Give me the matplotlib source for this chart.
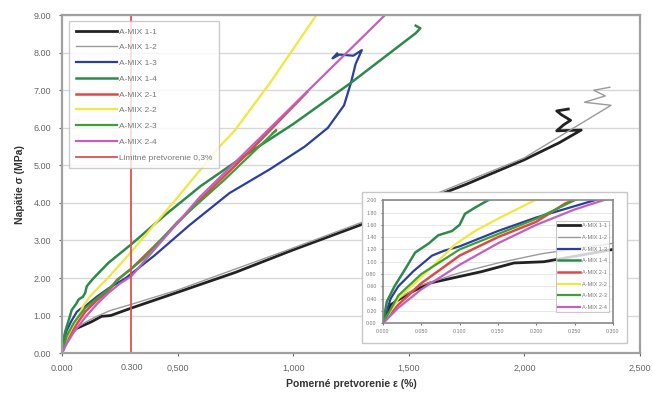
import matplotlib.pyplot as plt

# strain (%) / stress (MPa) readings per specimen
labels = ["A-MIX 1-1", "A-MIX 1-2", "A-MIX 1-3", "A-MIX 1-4",
          "A-MIX 2-1", "A-MIX 2-2", "A-MIX 2-3", "A-MIX 2-4"]

mix11_x = [0, 0.01, 0.033, 0.06, 0.1, 0.129, 0.171, 0.21, 0.3, 0.5, 0.75, 1.0, 1.285, 1.5, 1.75, 2.0, 2.15, 2.246,
           2.14, 2.17, 2.2, 2.16, 2.14, 2.19]
mix11_y = [0, 0.3, 0.48, 0.65, 0.76, 0.84, 0.98, 1.0, 1.2, 1.62, 2.15, 2.75, 3.4, 3.9, 4.5, 5.15, 5.6, 5.94,
           5.92, 6.08, 6.2, 6.35, 6.45, 6.5]

mix12_x = [0, 0.02, 0.05, 0.1, 0.15, 0.207, 0.3, 0.5, 1.0, 1.5, 2.0, 2.375, 2.26, 2.35, 2.3, 2.37]
mix12_y = [0, 0.4, 0.62, 0.82, 0.98, 1.13, 1.3, 1.68, 2.8, 3.95, 5.2, 6.6, 6.68, 6.85, 7.0, 7.08]

mix13_x = [0, 0.01, 0.02, 0.04, 0.064, 0.08, 0.1, 0.15, 0.2, 0.276, 0.4, 0.55, 0.724, 0.9, 1.05, 1.15, 1.22,
           1.25, 1.27, 1.297, 1.26, 1.2, 1.17, 1.19]
mix13_y = [0, 0.4, 0.6, 0.85, 1.1, 1.18, 1.25, 1.5, 1.72, 2.0, 2.6, 3.4, 4.26, 4.9, 5.5, 6.0, 6.6,
           7.2, 7.7, 8.07, 7.92, 7.95, 7.85, 7.98]

mix14_x = [0, 0.005, 0.015, 0.03, 0.042, 0.06, 0.072, 0.09, 0.1, 0.107, 0.12, 0.137, 0.2, 0.3, 0.45, 0.6, 0.8,
           1.0, 1.25, 1.53, 1.55, 1.53]
mix14_y = [0, 0.35, 0.6, 0.9, 1.15, 1.3, 1.43, 1.5, 1.6, 1.78, 1.88, 2.0, 2.4, 2.9, 3.7, 4.45, 5.3,
           6.1, 7.2, 8.52, 8.65, 8.72]

mix21_x = [0, 0.02, 0.05, 0.1, 0.15, 0.2, 0.238, 0.3, 0.45, 0.6, 0.8, 1.06]
mix21_y = [0, 0.3, 0.65, 1.1, 1.4, 1.65, 1.95, 2.25, 3.15, 4.1, 5.3, 6.95]

mix22_x = [0, 0.02, 0.05, 0.094, 0.12, 0.15, 0.198, 0.3, 0.5, 0.68, 0.75, 0.9, 1.1]
mix22_y = [0, 0.4, 0.75, 1.28, 1.5, 1.7, 2.0, 2.7, 4.15, 5.49, 5.95, 7.2, 9.0]

mix23_x = [0, 0.02, 0.05, 0.1, 0.15, 0.2, 0.25, 0.35, 0.5, 0.7, 0.927, 0.91]
mix23_y = [0, 0.45, 0.8, 1.2, 1.45, 1.7, 2.0, 2.5, 3.5, 4.6, 5.94, 5.85]

mix24_x = [0, 0.02, 0.05, 0.1, 0.15, 0.2, 0.25, 0.3, 0.595, 1.0, 1.405]
mix24_y = [0, 0.25, 0.55, 0.95, 1.3, 1.6, 1.85, 2.05, 4.15, 6.6, 9.05]

series_x = [mix11_x, mix12_x, mix13_x, mix14_x, mix21_x, mix22_x, mix23_x, mix24_x]
series_y = [mix11_y, mix12_y, mix13_y, mix14_y, mix21_y, mix22_y, mix23_y, mix24_y]
colors = ["#222222", "#9a9a9a", "#2b3f9c", "#2f8a4a", "#e04848", "#f2e640", "#3f9e36", "#c060c0"]
widths = [2.0, 1.0, 1.6, 1.8, 1.8, 1.6, 1.6, 1.6]

limit_strain = 0.3
limit_label = "Limitné pretvorenie 0,3%"

x_ticks = [0, 0.5, 1.0, 1.5, 2.0, 2.5]
x_tick_labels = ["0.000", "0,500", "1,000", "1,500", "2,000", "2,500"]
y_ticks = [0, 1, 2, 3, 4, 5, 6, 7, 8, 9]

inset_x_ticks = [0, 0.05, 0.1, 0.15, 0.2, 0.25, 0.3]
inset_y_ticks = [0, 0.2, 0.4, 0.6, 0.8, 1.0, 1.2, 1.4, 1.6, 1.8, 2.0]

plt.rcParams['font.family'] = ['Liberation Sans', 'DejaVu Sans']

fig = plt.figure(figsize=(6.53, 3.99), dpi=100)
ax = fig.add_axes([0.095, 0.115, 0.885, 0.847])

for xs, ys, c, w, lab in zip(series_x, series_y, colors, widths, labels):
    ax.plot(xs, ys, color=c, lw=w, label=lab)
ax.axvline(limit_strain, color="#e05050", lw=1.3, label=limit_label)

ax.set_xlim(0, 2.5)
ax.set_ylim(0, 9)
ax.set_xticks(x_ticks)
ax.set_xticklabels(x_tick_labels)
ax.set_yticks(y_ticks)
ax.set_yticklabels([f"{v:.2f}" for v in y_ticks])
ax.tick_params(labelsize=6.5, colors="#666666", length=2, pad=6)
ax.text(limit_strain, -0.27, "0.300", ha="center", va="top", fontsize=6.5, color="#666666")
ax.grid(axis="y", color="#d8d8d8", lw=1.0)
ax.set_axisbelow(True)
for s in ax.spines.values():
    s.set_color("#a0a0a0")
    s.set_linewidth(1.6)

ax.set_xlabel("Pomerné pretvorenie ε (%)", fontsize=7.5, fontweight="bold", color="#333333", labelpad=4)
ax.set_ylabel("Napätie σ (MPa)", fontsize=7.5, fontweight="bold", color="#333333", labelpad=6)

leg = ax.legend(loc="upper left", bbox_to_anchor=(0.005, 0.995), fontsize=6, handlelength=5,
                labelspacing=0.95, borderpad=0.8, handletextpad=0.2, fancybox=False)
leg.get_frame().set_edgecolor("#c0c0c0")
leg.get_frame().set_linewidth(1.0)
for t in leg.get_texts():
    t.set_color("#777777")

# inset with the initial part of the curves
frame = plt.Rectangle((0.554, 0.14), 0.406, 0.378, transform=fig.transFigure,
                      facecolor="white", edgecolor="#c8c8c8", lw=1.0, zorder=3)
fig.patches.append(frame)
ins = fig.add_axes([0.5865, 0.19, 0.352, 0.308], zorder=4)
for xs, ys, c, w, lab in zip(series_x, series_y, colors, widths, labels):
    ins.plot(xs, ys, color=c, lw=w, label=lab)
ins.set_xlim(0, 0.3)
ins.set_ylim(0, 2.0)
ins.set_xticks(inset_x_ticks)
ins.set_xticklabels([f"{v:.3f}" for v in inset_x_ticks])
ins.set_yticks(inset_y_ticks)
ins.set_yticklabels([f"{v:.2f}" for v in inset_y_ticks])
ins.tick_params(labelsize=3.8, colors="#777777", length=1.5, pad=3)
ins.grid(axis="y", color="#e4e4e4", lw=0.6)
ins.set_axisbelow(True)
for s in ins.spines.values():
    s.set_color("#888888")
    s.set_linewidth(1.2)

ileg = ins.legend(loc="center right", bbox_to_anchor=(0.995, 0.46), fontsize=4, handlelength=4,
                  labelspacing=1.2, borderpad=0.4, handletextpad=0.2, fancybox=False)
ileg.get_frame().set_edgecolor("#bbbbbb")
ileg.get_frame().set_linewidth(0.8)
for t in ileg.get_texts():
    t.set_color("#777777")

fig.savefig("out.png", dpi=100)
